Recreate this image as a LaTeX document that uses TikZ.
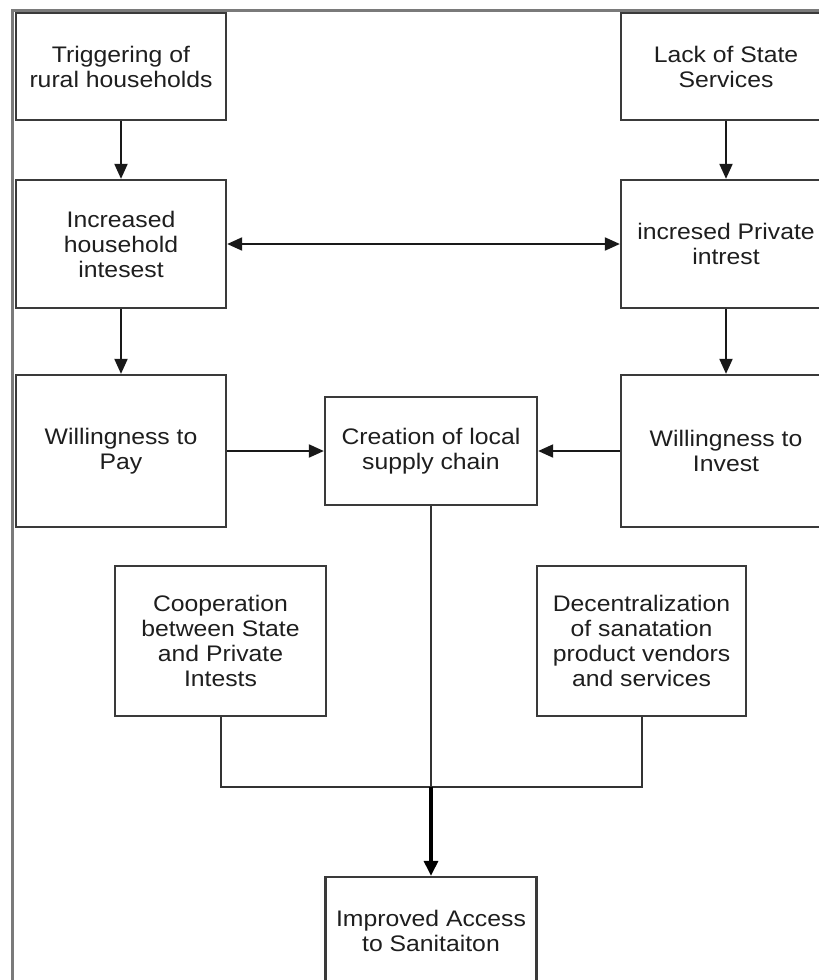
\documentclass[tikz,border=0pt]{standalone}
\usepackage{fontspec}
\setmainfont[FakeStretch=1.1]{Liberation Sans}
\usetikzlibrary{arrows.meta}
\definecolor{boxgray}{HTML}{3A3A3A}
\definecolor{framegray}{HTML}{7A7A7A}
\definecolor{txt}{HTML}{1E1E1E}
\begin{document}
\begin{tikzpicture}[x=1pt,y=-1pt,
  box/.style={draw=boxgray, line width=2.3pt, fill=white, align=center, inner sep=0pt,
    text=txt, font=\fontsize{22.5}{25}\selectfont},
  conn/.style={draw=black!90, line width=2pt, -{Triangle[length=15pt,width=13pt]}},
  twoway/.style={draw=black!90, line width=2pt, {Triangle[length=15pt,width=13pt]}-{Triangle[length=15pt,width=13pt]}},
  plain/.style={draw=black!80, line width=2pt},
  bold/.style={draw=black, line width=3.2pt, -{Triangle[length=15pt,width=14pt]}}]
\useasboundingbox (0,0) rectangle (819,980);
\clip (0,0) rectangle (819,980);
\fill[white] (0,0) rectangle (819,980);
\draw[framegray, line width=3pt] (12,985) -- (12,10) -- (825,10);

\node[box, minimum width=210pt, minimum height=107pt] (A) at (121,66.5) {Triggering of\\rural households};
\node[box, minimum width=210pt, minimum height=128pt] (B) at (121,244) {Increased\\household\\intesest};
\node[box, minimum width=210pt, minimum height=107pt] (C) at (726,66.5) {Lack of State\\Services};
\node[box, minimum width=210pt, minimum height=128pt] (D) at (726,244) {incresed Private\\intrest};
\node[box, minimum width=210pt, minimum height=152pt] (E) at (121,451) {Willingness to\\Pay};
\node[box, minimum width=212pt, minimum height=108pt] (F) at (431,451) {Creation of local\\supply chain};
\node[box, minimum width=210pt, minimum height=152pt] (G) at (726,451) {Willingness to\\Invest};
\node[box, minimum width=211pt, minimum height=150pt] (H) at (220.5,641) {Cooperation\\between State\\and Private\\Intests};
\node[box, minimum width=209pt, minimum height=150pt] (I) at (641.5,641) {Decentralization\\of sanatation\\product vendors\\and services};
\node[box, minimum width=211pt, minimum height=108pt] (J) at (431,931) {Improved Access\\to Sanitaiton};

\coordinate (jn) at (431,787);

\draw[conn] (A) -- (B);
\draw[conn] (C) -- (D);
\draw[twoway] (B) -- (D);
\draw[conn] (B) -- (E);
\draw[conn] (D) -- (G);
\draw[conn] (E) -- (F);
\draw[conn] (G) -- (F);
\draw[plain] (F) -- (jn);
\draw[plain] (H.south) |- (jn) -| (I.south);
\draw[bold] (jn) -- (J);
\end{tikzpicture}
\end{document}
